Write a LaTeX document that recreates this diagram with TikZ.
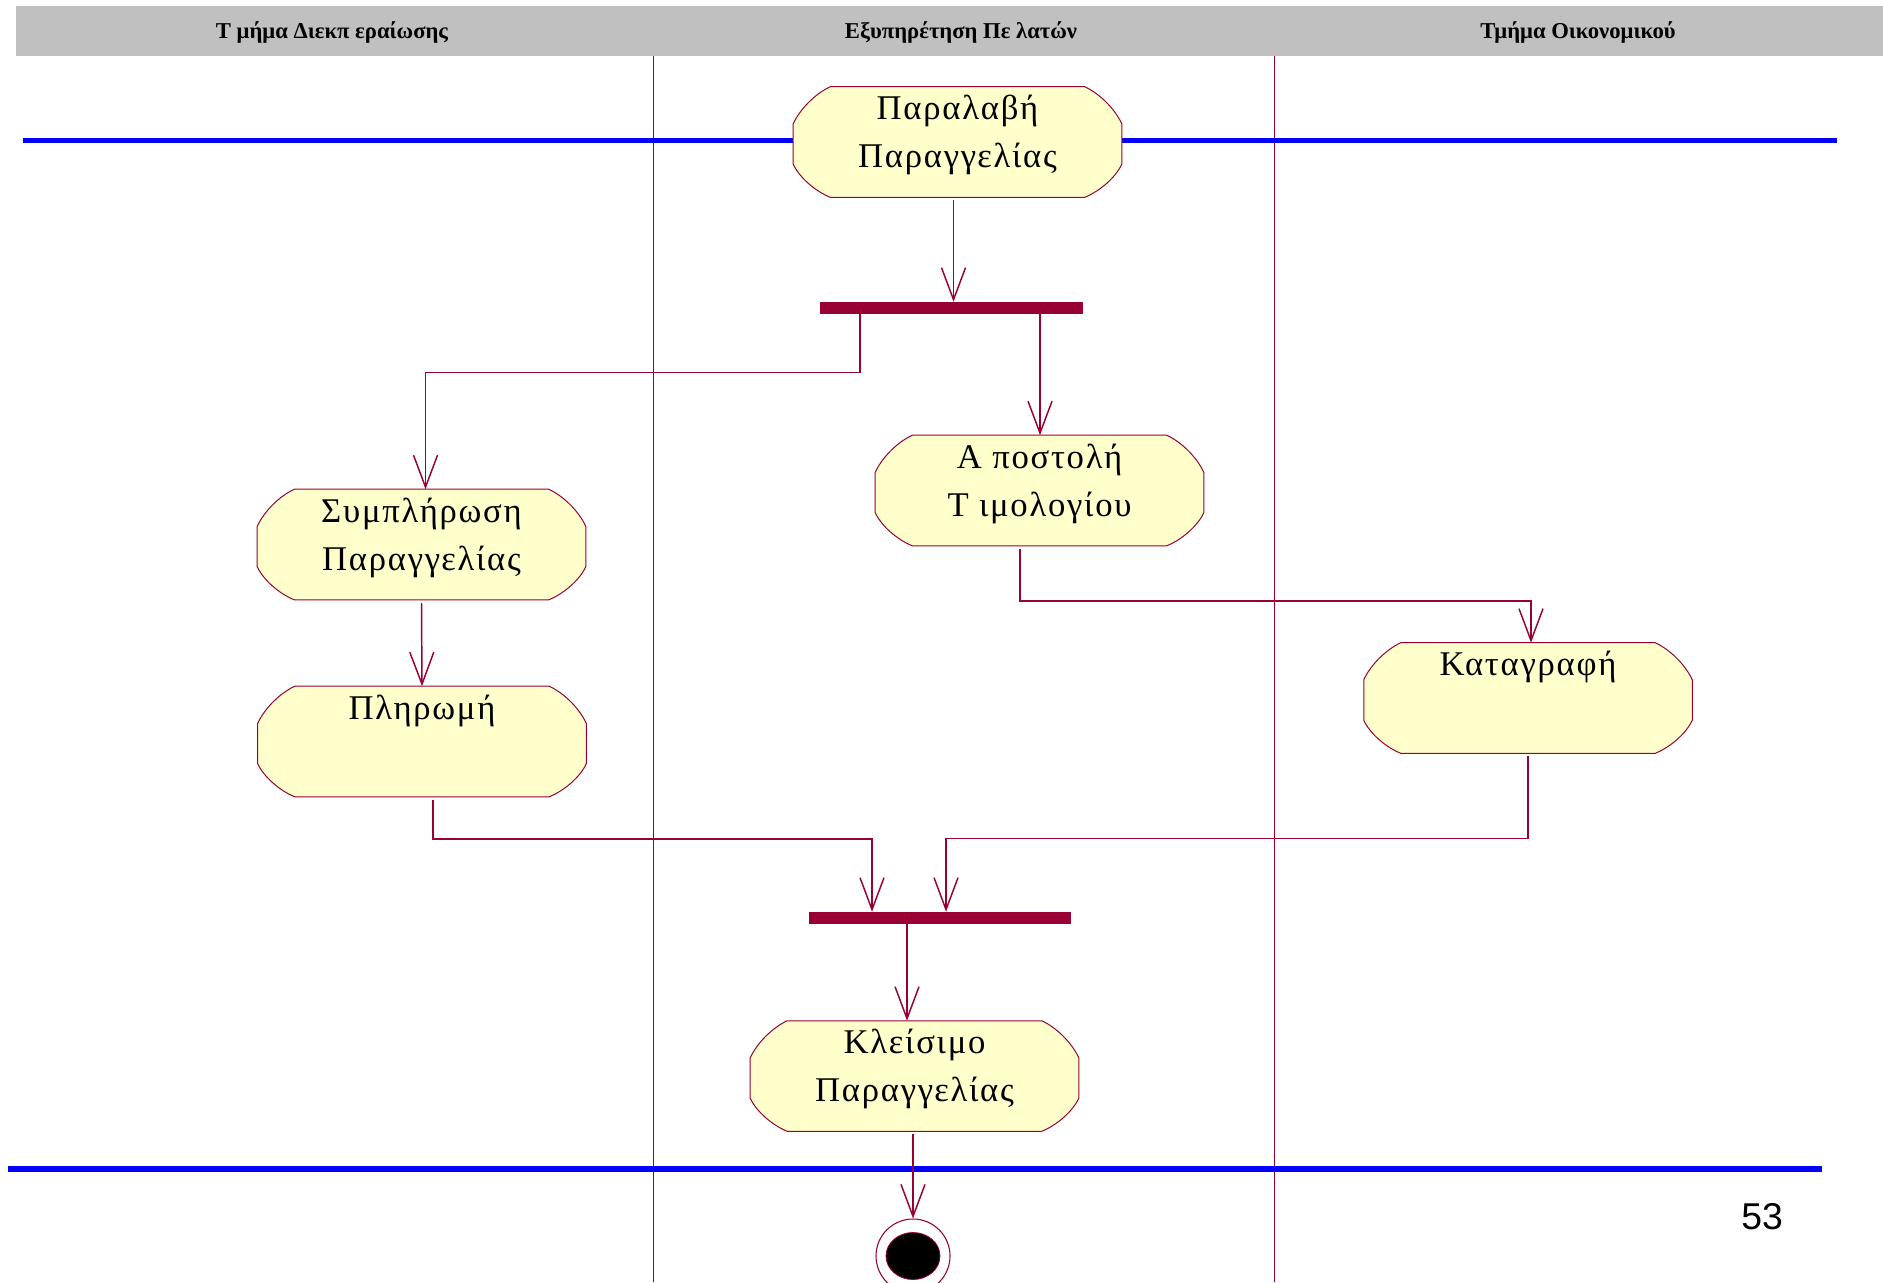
\documentclass[tikz,border=0pt]{standalone}
\usepackage{fontspec}
\setmainfont{Liberation Serif}
\newfontfamily\actfont[LetterSpace=5]{Liberation Serif}
\newfontfamily\hdrfont{Liberation Serif}
\newfontfamily\numfont{Liberation Sans}
\usetikzlibrary{arrows.meta,calc}
\definecolor{crim}{RGB}{153,0,51}
\definecolor{actfill}{RGB}{255,255,204}
\definecolor{hdrgray}{RGB}{192,192,192}
\definecolor{laneblue}{RGB}{0,0,255}
\tikzset{
  actbox/.style={inner sep=0pt, draw=none, minimum width=246pt, minimum height=82.5pt},
  actborder/.style={draw=crim, fill=actfill, line width=0.75pt},
  acttext/.style={anchor=base, inner sep=0pt, font={\actfont\fontsize{26pt}{36pt}\selectfont}},
  hdrtext/.style={anchor=base, inner sep=0pt, font={\hdrfont\bfseries\fontsize{17pt}{20pt}\selectfont}},
  barnode/.style={fill=crim, draw=none, inner sep=0pt, minimum width=197pt, minimum height=9pt},
  lane/.style={draw=crim, line width=0.7pt},
  blueline/.style={draw=laneblue},
  flow/.style={draw=crim, line width=1.1pt, -{Straight Barb[length=24pt,width=18pt]}},
  finnode/.style={circle, draw=crim, fill=white, line width=0.8pt, minimum size=55.5pt, inner sep=0pt}
}
\newcommand\actshape[1]{%
  \draw[actborder] ($(#1.north west)+(37,0)$) -- ($(#1.north east)+(-37,0)$)
    .. controls +(15,7) and +(-7,-15) .. ($(#1.north east)+(0,37)$)
    -- ($(#1.south east)+(0,-33)$)
    .. controls +(-6,13) and +(15,-6) .. ($(#1.south east)+(-37,0)$)
    -- ($(#1.south west)+(37,0)$)
    .. controls +(-15,-6) and +(6,13) .. ($(#1.south west)+(0,-33)$)
    -- ($(#1.north west)+(0,37)$)
    .. controls +(7,-15) and +(-15,7) .. ($(#1.north west)+(37,0)$) -- cycle;}
\newcommand\actnode[4]{%
  \node[actbox] (#1) at (#2,#3) {};
  \actshape{#1}
  \node[acttext] (#1-t) at ($(#1.north)+(0,33)$) {\vtop{\hsize=300pt\centering #4\par}};}
\begin{document}
\begin{tikzpicture}[x=0.75pt,y=-0.75pt]
\useasboundingbox (0,0) rectangle (1883,1282);
% header
\fill[hdrgray] (16,6) rectangle (1883,56);
\node[hdrtext] (h1) at (332,38) {Τ μήμα Διεκπ εραίωσης};
\node[hdrtext] (h2) at (961,38) {Εξυπηρέτηση Πε λατών};
\node[hdrtext] (h3) at (1578,38) {Τμήμα Οικονομικού};
% lanes
\draw[lane] (653,56) -- (653,1282);
\draw[lane] (1274,56) -- (1274,1282);
% blue lines
\draw[blueline, line width=3.75pt] (23,140.5) -- (1837,140.5);
\draw[blueline, line width=4.5pt] (8,1169) -- (1822,1169);
% bars
\node[barnode] (bar1) at (951.5,308) {};
\node[barnode] (bar2) at (940,918) {};
% activities
\actnode{p1}{957.5}{142}{Παραλαβή\\Παραγγελίας}
\actnode{s}{421.5}{544.5}{Συμπλήρωση\\Παραγγελίας}
\actnode{pl}{422}{741.5}{Πληρωμή}
\actnode{ap}{1039.5}{490.5}{Α ποστολή\\Τ ιμολογίου}
\actnode{kat}{1528}{698}{Καταγραφή}
\actnode{kl}{914.5}{1076}{Κλείσιμο\\Παραγγελίας}
% final
\node[finnode] (fin) at (913,1256) {};
\fill[black, draw=crim, line width=0.6pt] (fin.center) ellipse [x radius=27, y radius=23.5];
% flows
\draw[flow] ($(p1.south)+(-4,3)$) coordinate (fa) -- (fa |- bar1.north);
\draw[flow] ($(bar1.south)+(-91.5,0)$) -- ++(0,58) -| ($(s.north)+(4,0)$);
\draw[flow] ($(bar1.south)+(88.5,0)$) coordinate (fc) -- (fc |- ap.north);
\draw[flow] ($(s.south)+(0,3)$) -- (pl.north);
\draw[flow] ($(ap.south)+(-19.5,3)$) -- ++(0,52) -| ($(kat.north)+(3,0)$);
\draw[flow] ($(pl.south)+(11,3)$) -- ++(0,39) -| ($(bar2.north)+(-68,0)$);
\draw[flow] ($(kat.south)+(0,3)$) -- ++(0,82) -| ($(bar2.north)+(6,0)$);
\draw[flow] ($(bar2.south)+(-33,0)$) coordinate (fh) -- (fh |- kl.north);
\coordinate (fi) at ($(kl.south)+(0,3)$);
\draw[flow] (fi -| fin.north) -- (fin.north);
% page number
\node[font={\numfont\fontsize{28pt}{30pt}\selectfont}, inner sep=0pt] (num) at (1762,1216.5) {53};
\end{tikzpicture}
\end{document}
